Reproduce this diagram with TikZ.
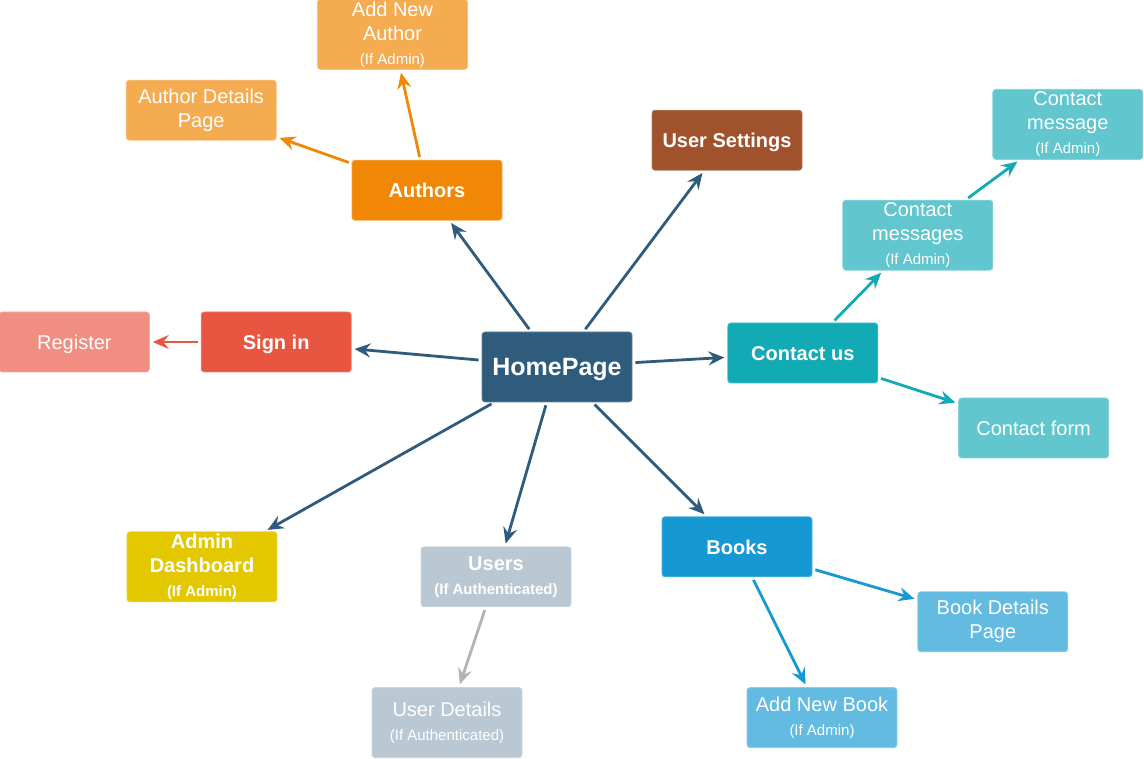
\documentclass[tikz,border=0pt]{standalone}
\usepackage{fontspec}
\setmainfont{Liberation Sans}
\usetikzlibrary{positioning, arrows.meta}
\definecolor{homeblue}{HTML}{2F5B7C}
\definecolor{signred}{HTML}{E85642}
\definecolor{registerred}{HTML}{F08E81}
\definecolor{authororange}{HTML}{F08705}
\definecolor{authorlight}{HTML}{F5AB50}
\definecolor{settingsbrown}{HTML}{A0522D}
\definecolor{contactteal}{HTML}{12AAB5}
\definecolor{contactlight}{HTML}{61C6CE}
\definecolor{adminyellow}{HTML}{E3C800}
\definecolor{usersgray}{HTML}{BAC8D3}
\definecolor{detailgray}{HTML}{B3B3B3}
\definecolor{booksblue}{HTML}{1699D3}
\definecolor{booklight}{HTML}{64BBE2}
\newcommand{\subnote}[1]{{\fontsize{7.5}{9}\selectfont #1}}
\tikzset{box/.style = {rectangle, rounded corners=1.5pt, minimum width=75pt, minimum height=30pt, inner sep=0pt, line width=0.4pt, align=center, text=white, font=\fontsize{10}{12}\selectfont}}
\tikzset{topic/.style = {box, fill=#1, draw=#1!75!white, font=\bfseries\fontsize{10}{12}\selectfont}}
\tikzset{leaf/.style = {box, fill=#1, draw=#1!75!white}}
\tikzset{tall/.style = {minimum height=35pt}}
\tikzset{oneline/.style = {text height=9pt, text depth=1.5pt}}
\tikzset{link/.style = {->, draw=#1, shorten >=1.5pt, shorten <=1.5pt}}

\begin{document}
\begin{tikzpicture}[auto, >={Stealth[length=8pt, width=7pt, inset=2.8pt]}, line width=1.4pt]
  \useasboundingbox (-278.5pt,-196pt) rectangle (293.5pt,183.5pt);
  \node [topic=homeblue, tall, font=\bfseries\fontsize{12.5}{15}\selectfont, text height=11pt, text depth=2pt] (home) {HomePage};
  \node [topic=signred, oneline, left=65pt of home, yshift=12.5pt] (signin) {Sign in};
  \node [leaf=registerred, oneline, left=25.5pt of signin] (register) {Register};
  \node [topic=authororange, oneline, above=55.5pt of home, xshift=-65pt] (authors) {Authors};
  \node [leaf=authorlight, left=37.5pt of authors, yshift=40pt] (authordetails) {Author Details\\Page};
  \node [leaf=authorlight, tall, above=45pt of authors, xshift=-17.25pt] (addauthor) {Add New\\Author\\\subnote{(If Admin)}};
  \node [topic=settingsbrown, oneline, above=80.5pt of home, xshift=85pt] (settings) {User Settings};
  \node [topic=contactteal, oneline, right=47.5pt of home, yshift=7pt] (contact) {Contact us};
  \node [leaf=contactlight, tall, above=26pt of contact, xshift=57.5pt] (messages) {Contact\\messages\\\subnote{(If Admin)}};
  \node [leaf=contactlight, tall, above=20pt of messages, xshift=75pt] (message) {Contact\\message\\\subnote{(If Admin)}};
  \node [leaf=contactlight, oneline, right=40pt of contact, yshift=-37.5pt] (contactform) {Contact form};
  \node [topic=adminyellow, tall, below=64.5pt of home, xshift=-177.5pt] (admin) {Admin\\Dashboard\\\subnote{(If Admin)}};
  \node [topic=usersgray, below=72pt of home, xshift=-30.5pt] (users) {Users\\\subnote{(If Authenticated)}};
  \node [leaf=usersgray, tall, below=40pt of users, xshift=-24.5pt] (userdetails) {User Details\\\subnote{(If Authenticated)}};
  \node [topic=booksblue, oneline, below=57pt of home, xshift=90pt] (books) {Books};
  \node [leaf=booklight, right=52.5pt of books, yshift=-37.5pt] (bookdetails) {Book Details\\Page};
  \node [leaf=booklight, below=55pt of books, xshift=42.5pt] (addbook) {Add New Book\\\subnote{(If Admin)}};

  \path (home) edge [link=homeblue] (authors)
               edge [link=homeblue] (settings)
               edge [link=homeblue] (signin)
               edge [link=homeblue] (contact)
               edge [link=homeblue] (admin)
               edge [link=homeblue] (users)
               edge [link=homeblue] (books);

  \path (authors) edge [link=authororange] (authordetails)
                  edge [link=authororange] (addauthor);
  \path (signin) edge [link=signred] (register);

  \path (contact) edge [link=contactteal] (messages)
                  edge [link=contactteal] (contactform);
  \path (messages) edge [link=contactteal] (message);

  \path (users) edge [link=detailgray] (userdetails);
  \path (books) edge [link=booksblue] (bookdetails)
                edge [link=booksblue] (addbook);
\end{tikzpicture}
\end{document}
